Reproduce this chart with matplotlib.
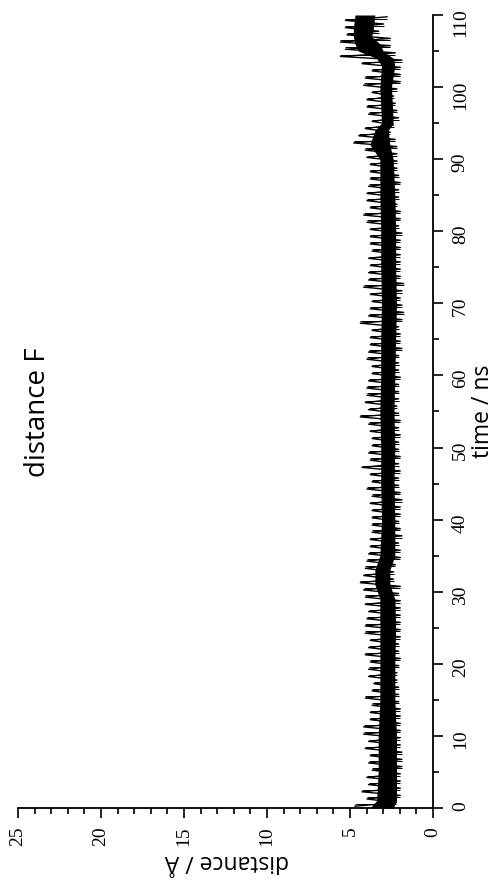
import numpy as np
import matplotlib
matplotlib.use("Agg")
import matplotlib.pyplot as plt
from matplotlib.ticker import MultipleLocator

# per-ns bins (0..109): extremes of the distance trace
t_bins = np.arange(0, 110)
d_max = [4.70, 3.98, 4.28, 3.88, 3.98, 3.67, 3.88, 3.78, 4.08, 3.88,
         4.18, 4.18, 3.78, 3.78, 3.67, 4.08, 3.67, 3.57, 3.88, 3.88,
         3.78, 4.08, 3.88, 3.78, 4.08, 4.08, 3.98, 3.88, 4.08, 4.08,
         4.18, 4.38, 4.18, 4.08, 3.98, 3.88, 3.78, 3.78, 3.67, 3.67,
         3.67, 3.67, 3.78, 3.67, 3.98, 3.67, 3.78, 4.28, 3.78, 3.88,
         3.67, 3.67, 3.78, 3.88, 4.38, 3.88, 4.08, 3.98, 3.98, 3.88,
         3.67, 3.67, 3.98, 3.88, 3.78, 3.78, 3.67, 4.38, 3.88, 3.78,
         3.67, 3.78, 4.18, 3.88, 3.88, 3.78, 3.88, 3.67, 3.78, 3.78,
         3.78, 3.98, 4.18, 3.78, 3.98, 3.98, 3.88, 3.78, 3.78, 3.78,
         3.98, 4.08, 4.78, 4.48, 4.08, 3.67, 3.88, 3.98, 3.98, 3.67,
         4.18, 4.08, 3.67, 4.28, 5.58, 5.28, 5.58, 5.18, 5.28, 5.28]
d_min = [2.20, 1.97, 1.97, 1.97, 1.97, 1.87, 1.87, 1.87, 1.97, 1.97,
         1.97, 1.97, 1.97, 1.97, 2.07, 2.07, 2.07, 2.17, 2.17, 2.07,
         1.97, 2.07, 2.07, 1.97, 1.97, 1.97, 1.97, 1.97, 1.97, 2.07,
         1.97, 2.37, 2.37, 2.27, 1.97, 1.97, 2.07, 1.87, 1.97, 2.07,
         1.97, 1.97, 1.87, 1.97, 2.07, 2.07, 1.97, 2.07, 1.97, 2.07,
         2.07, 1.97, 2.07, 1.97, 2.07, 2.17, 2.07, 2.07, 2.07, 1.97,
         2.07, 2.07, 2.07, 1.87, 1.97, 1.97, 2.07, 1.87, 1.77, 1.87,
         1.97, 1.87, 1.77, 1.97, 1.97, 1.97, 1.97, 1.97, 1.97, 1.87,
         2.07, 1.97, 1.97, 2.17, 2.07, 2.07, 1.97, 2.07, 2.17, 2.17,
         2.17, 2.17, 2.27, 2.57, 2.37, 2.07, 2.17, 2.27, 2.37, 2.17,
         1.97, 1.97, 1.97, 1.87, 2.27, 2.57, 2.57, 3.27, 2.97, 2.77]

# dense core of the trace
core_t = [0, 1, 5, 10, 15, 20, 25, 29, 31, 33, 35, 40, 45, 50, 55, 60, 65,
          70, 75, 80, 85, 90, 92, 94, 95, 100, 103, 104, 105, 106, 107, 108, 110]
core_hi = [3.8, 3.4, 3.3, 3.3, 3.2, 3.2, 3.2, 3.2, 3.5, 3.5, 3.2, 3.1, 3.15,
           3.15, 3.2, 3.15, 3.15, 3.1, 3.15, 3.15, 3.2, 3.2, 3.8, 3.5, 3.1,
           3.2, 3.1, 3.4, 4.5, 4.7, 4.8, 4.8, 4.7]
core_lo = [2.4, 2.2, 2.2, 2.2, 2.3, 2.3, 2.25, 2.3, 2.6, 2.6, 2.3, 2.3, 2.35,
           2.3, 2.35, 2.3, 2.25, 2.2, 2.25, 2.25, 2.3, 2.4, 2.6, 2.7, 2.4,
           2.5, 2.3, 2.4, 3.0, 3.2, 3.7, 3.6, 3.5]

serif = "Liberation Serif"
sans = "Open Sans"
plt.rcParams["font.family"] = serif
plt.rcParams["font.size"] = 14

fig = plt.figure(figsize=(4.96, 8.88), dpi=100)
ax = fig.add_axes([18/496, 80/888, 415/496, 793/888])

ax.fill_betweenx(core_t, core_lo, core_hi, color="black", lw=0)
# trace: alternate between the low and high extreme of each bin
tt = np.empty(2 * len(t_bins))
dd = np.empty(2 * len(t_bins))
tt[0::2] = t_bins + 0.25
tt[1::2] = t_bins + 0.75
dd[0::2] = d_max
dd[1::2] = d_min
ax.plot(dd, tt, color="black", lw=1.0)
# min/max range of each bin as thin horizontal spikes
ax.hlines(t_bins + 0.5, d_min, d_max, color="black", lw=0.7)

ax.set_xlim(25, 0)
ax.set_ylim(0, 110)

for s in ["top", "left"]:
    ax.spines[s].set_visible(False)
for s in ["bottom", "right"]:
    ax.spines[s].set_linewidth(1.3)

ax.yaxis.tick_right()
ax.xaxis.set_major_locator(MultipleLocator(5))
ax.xaxis.set_minor_locator(MultipleLocator(1))
ax.yaxis.set_major_locator(MultipleLocator(10))
ax.yaxis.set_minor_locator(MultipleLocator(5))
ax.tick_params(which="major", direction="out", length=7.5, width=1.2,
               labelsize=14, labelrotation=90, pad=6)
ax.tick_params(which="minor", direction="out", length=4.5, width=1.2)

ax.set_xlabel("distance / Å", rotation=180, fontsize=16.5, fontfamily=sans)
ax.xaxis.set_label_coords(0.504, -0.067)
ax.xaxis.label.set_va("center")

ax.yaxis.set_label_position("right")
ax.set_ylabel("time / ns", rotation=90, fontsize=16.5, fontfamily=sans)
ax.yaxis.set_label_coords(1.12, 0.5)
ax.yaxis.label.set_va("center")
ax.yaxis.label.set_ha("center")

ax.text(23.8, 54.9, "distance F", rotation=90, ha="center", va="center",
        fontsize=20, fontfamily=sans)

fig.savefig("out.png", dpi=100)
